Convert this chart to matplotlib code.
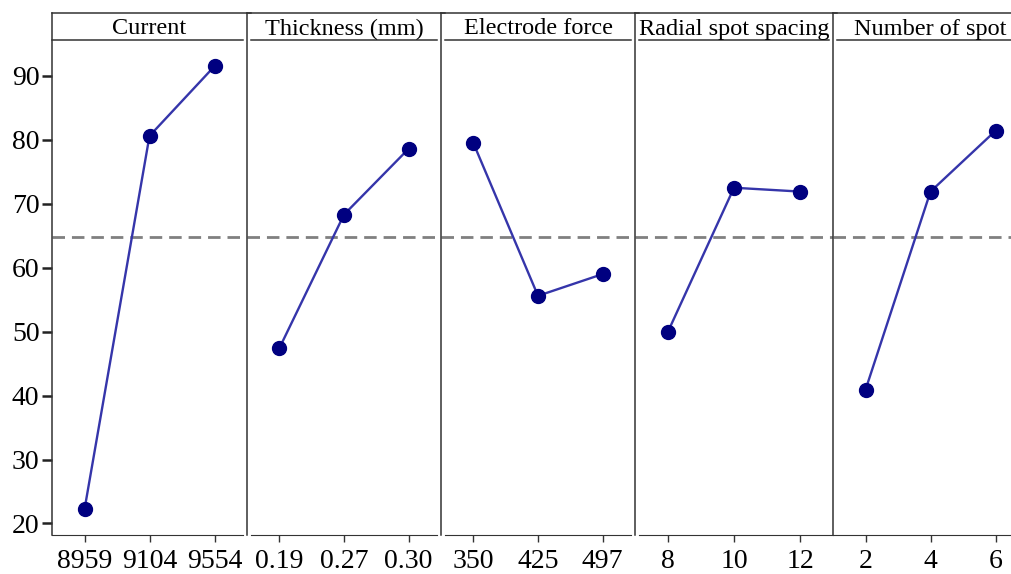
import matplotlib.pyplot as plt

plt.rcParams['font.family'] = ['Liberation Serif', 'DejaVu Serif']

factors = ['Current', 'Thickness (mm)', 'Electrode force',
           'Radial spot spacing', 'Number of spot']
levels = [['8959', '9104', '9554'],
          ['0.19', '0.27', '0.30'],
          ['350', '425', '497'],
          ['8', '10', '12'],
          ['2', '4', '6']]
means = [[22.2, 80.6, 91.5],
         [47.4, 68.3, 78.6],
         [79.5, 55.6, 59.0],
         [50.0, 72.5, 71.9],
         [40.9, 71.9, 81.4]]
grand_mean = 64.8

W, H = 1011, 574
fig = plt.figure(figsize=(W / 100, H / 100), dpi=100)

# panel edges in pixels (last one runs off the right edge, like the original)
lefts = [52, 247, 441, 635, 833]
widths = [195, 194, 194, 198, 195]
bot_px, top_px, box_px = 535, 40, 12.5
ax_h = bot_px - top_px
box_top = 1 + (top_px - box_px) / ax_h

edge = '#333333'
for i, (name, labs, vals) in enumerate(zip(factors, levels, means)):
    ax = fig.add_axes([lefts[i] / W, (H - bot_px) / H, widths[i] / W, ax_h / H])
    x = range(1, len(vals) + 1)
    ax.plot(x, vals, color='#3535aa', lw=1.7, zorder=3)
    ax.plot(x, vals, 'o', color='#000080', ms=10, zorder=4)
    ax.axhline(grand_mean, color='#808080', lw=2, ls=(0, (4.5, 2.5)), zorder=1)
    ax.set_xlim(0.5, 3.5)
    ax.set_ylim(18.2, 95.6)
    ax.set_xticks(list(x))
    ax.set_xticklabels(labs)
    ax.tick_params(axis='x', direction='out', length=5, width=1, color=edge,
                   labelsize=20, pad=5)
    for s in ['top', 'right', 'left']:
        ax.spines[s].set_visible(False)
    ax.spines['bottom'].set_color(edge)
    gap = 0.06
    if i < 3:
        ax.spines['bottom'].set_bounds(0.5 + (gap if i > 0 else 0), 3.5 - gap)
    else:
        ax.spines['bottom'].set_bounds(0.5 + (gap if i == 3 else 0), 3.5)
    if i == 0:
        ax.set_yticks(range(20, 100, 10))
        ax.tick_params(axis='y', direction='out', length=7, width=1.8,
                       color='#222222', labelsize=20, pad=2)
    else:
        ax.set_yticks([])
    # vertical divider / left axis line, up to the title strip
    ax.plot([0, 0], [0, box_top], transform=ax.transAxes, color=edge,
            lw=1.1, clip_on=False)
    # title strip
    ax.plot([0, 1.02], [box_top, box_top], transform=ax.transAxes,
            color=edge, lw=1.1, clip_on=False)
    g = 4 / widths[i]
    ax.plot([0 + (g if i > 0 else 0), 1 - g], [1, 1], transform=ax.transAxes,
            color=edge, lw=1.1, clip_on=False)
    ax.text(0.5, 1 + 11 / ax_h, name, transform=ax.transAxes,
            ha='center', va='center', fontsize=17.5)

fig.savefig('out.png', dpi=100)
